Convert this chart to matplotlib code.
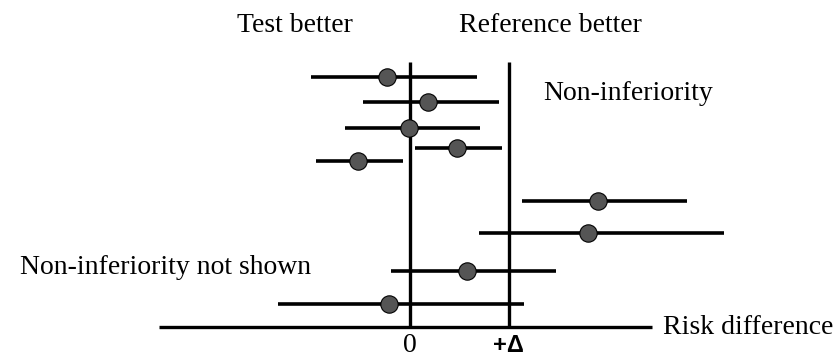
import matplotlib.pyplot as plt
import numpy as np

plt.rcParams['font.family'] = ['Liberation Serif', 'DejaVu Serif']

# Risk difference, in units of the margin (Delta = 1)
estimate = [-0.23, 0.18, -0.01, 0.47, -0.53, 1.90, 1.80, 0.58, -0.21]
lower = [-1.00, -0.47, -0.66, 0.05, -0.95, 1.13, 0.70, -0.19, -1.33]
upper = [0.68, 0.90, 0.71, 0.93, -0.07, 2.80, 3.17, 1.47, 1.15]
# vertical position of each trial (top = small)
row_pos = [77, 102, 128, 148, 161, 201, 233, 271, 304]
delta = 1.0

fig = plt.figure(figsize=(8.34, 3.54), dpi=100)
ax = fig.add_axes([0, 0, 1, 1])
ax.set_xlim(-410 / 99, 424 / 99)
ax.set_ylim(354, 0)
ax.axis('off')

axis_y = 327
top_y = 62

# axis and reference lines
ax.plot([-2.54, 2.44], [axis_y, axis_y], color='black', lw=2.4, solid_capstyle='butt')
ax.plot([0, 0], [top_y, axis_y], color='black', lw=2.4, solid_capstyle='butt')
ax.plot([delta, delta], [top_y, axis_y], color='black', lw=2.4, solid_capstyle='butt')

# confidence intervals
for est, lo, hi, y in zip(estimate, lower, upper, row_pos):
    ax.plot([lo, hi], [y, y], color='black', lw=2.6, solid_capstyle='butt', zorder=3)
    ax.plot(est, y, 'o', ms=12.5, mfc='#555555', mec='black', mew=0.8, zorder=4)

fs = 20
ax.text((295 - 410) / 99, 26, 'Test better', ha='center', va='center', fontsize=fs)
ax.text((550 - 410) / 99, 26, 'Reference better', ha='center', va='center', fontsize=fs)
ax.text((543 - 410) / 99, 93, 'Non-inferiority', ha='left', va='center', fontsize=fs)
ax.text((20 - 410) / 99, 268, 'Non-inferiority not shown', ha='left', va='center', fontsize=fs)
ax.text((663 - 410) / 99, axis_y, 'Risk difference', ha='left', va='center', fontsize=fs)
ax.text(0, 352, '0', ha='center', va='baseline', fontsize=fs)
ax.text(delta - 0.01, 352, '+Δ', ha='center', va='baseline', fontsize=17, fontweight='bold',
        family=['Liberation Sans', 'DejaVu Sans'])

fig.savefig('out.png', dpi=100)
